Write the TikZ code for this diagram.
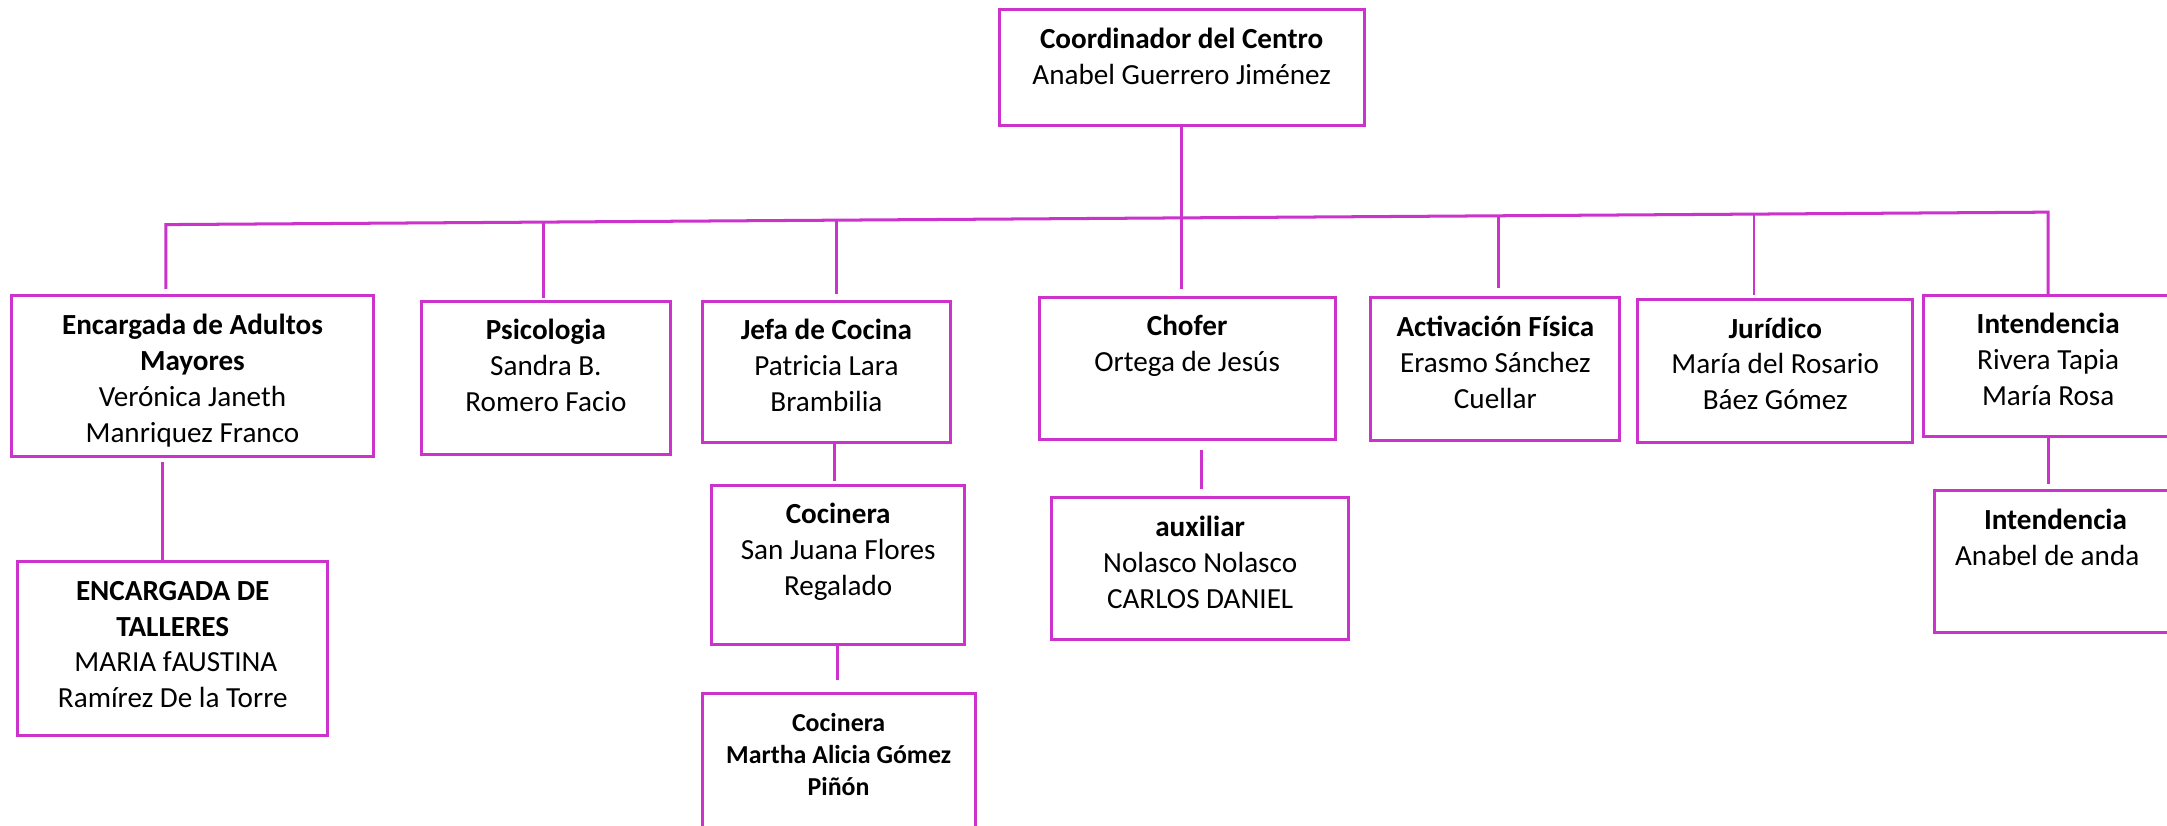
\documentclass[tikz,border=0pt]{standalone}
\usepackage{fontspec}
\setmainfont{Carlito}
\definecolor{mag}{RGB}{204,51,204}
\newcommand\fl{\rule{0pt}{10.5pt}}
\newcommand\fls{\rule{0pt}{9.5pt}}
\tikzset{
  x=0.55pt, y=-0.55pt,
  box/.style={draw=mag, line width=1.2pt, rectangle, inner sep=0pt, outer sep=0pt},
  sz/.style 2 args={minimum width=#1*0.55pt, minimum height=#2*0.55pt},
  txt/.style={align=center, inner sep=0pt, outer sep=0pt, anchor=north, font=\fontsize{11.6pt}{14.3pt}\selectfont},
  txtsmall/.style={align=center, inner sep=0pt, outer sep=0pt, anchor=north, font=\fontsize{10.3pt}{12.65pt}\selectfont\bfseries},
  link/.style={draw=mag, line width=1.2pt},
  thinlink/.style={draw=mag, line width=0.7pt},
}
\begin{document}
\begin{tikzpicture}
\clip (0,0) rectangle (1568,597);
\fill[white] (0,0) rectangle (1568,597);

% boxes
\node[box, sz={264}{84}] (coord) at (855,49) {};
\node[box, sz={261.5}{116}] (enc) at (139.25,272) {};
\node[box, sz={180}{110.6}] (psi) at (395,273.3) {};
\node[box, sz={180}{102}] (jefa) at (598,269) {};
\node[box, sz={214}{103}] (chofer) at (859,266.5) {};
\node[box, sz={180}{103.4}] (act) at (1082,267.3) {};
\node[box, sz={199}{103.4}] (jur) at (1284.5,268.3) {};
\node[box, sz={180}{102.5}] (int) at (1482,264.75) {};
\node[box, sz={224}{126}] (taller) at (125,469.2) {};
\node[box, sz={183}{115}] (coc1) at (606.5,408.5) {};
\node[box, sz={214.7}{103}] (aux) at (868.4,411.5) {};
\node[box, sz={175.4}{102.8}] (int2) at (1487.3,406.4) {};
\node[box, sz={197.6}{150}] (coc2) at (606.8,577) {};

% texts
\node[txt] (tcoord) at ([yshift=-4.9pt]coord.north) {\fl\textbf{Coordinador del Centro}\\Anabel Guerrero Jiménez};
\node[txt] (tenc) at ([yshift=-4.9pt]enc.north) {\fl\textbf{Encargada de Adultos}\\\textbf{Mayores}\\Verónica Janeth\\Manriquez Franco};
\node[txt] (tpsi) at ([yshift=-4.9pt]psi.north) {\fl\textbf{Psicologia}\\Sandra B.\\Romero Facio};
\node[txt] (tjefa) at ([yshift=-4.9pt]jefa.north) {\fl\textbf{Jefa de Cocina}\\Patricia Lara\\Brambilia};
\node[txt] (tchofer) at ([yshift=-4.9pt]chofer.north) {\fl\textbf{Chofer}\\Ortega de Jesús};
\node[txt] (tact) at ([yshift=-4.9pt]act.north) {\fl\textbf{Activación Física}\\Erasmo Sánchez\\Cuellar};
\node[txt] (tjur) at ([yshift=-4.9pt]jur.north) {\fl\textbf{Jurídico}\\María del Rosario\\Báez Gómez};
\node[txt] (tint) at ([yshift=-4.9pt]int.north) {\fl\textbf{Intendencia}\\Rivera Tapia\\María Rosa};
\node[txt] (ttaller) at ([yshift=-4.9pt]taller.north) {\fl\textbf{ENCARGADA DE}\\\textbf{TALLERES}\\\hspace*{2.5pt}MARIA fAUSTINA\\Ramírez De la Torre};
\node[txt] (tcoc1) at ([yshift=-4.9pt]coc1.north) {\fl\textbf{Cocinera}\\San Juana Flores\\Regalado};
\node[txt] (taux) at ([yshift=-4.9pt]aux.north) {\fl\textbf{auxiliar}\\Nolasco Nolasco\\CARLOS DANIEL};
\node[txt] (tint2) at ([yshift=-4.9pt]int2.north) {\fl\textbf{Intendencia}\\Anabel de anda\hspace*{6.6pt}};
\node[txtsmall] (tcoc2) at ([yshift=-5.6pt]coc2.north) {\fls Cocinera\\Martha Alicia Gómez\\Piñón};

% bus
\coordinate (busL) at (120,162.5);
\coordinate (busR) at (1482,153.5);
\coordinate (d2) at (393,160.7);
\coordinate (d3) at (605,159.3);
\coordinate (d4) at (855,157.6);
\coordinate (d5) at (1084,156.1);
\coordinate (d6) at (1269,154.9);
\draw[link] ([yshift=2.75pt]busL |- enc.north) -- (busL) -- (busR) -- (busR |- int.north);
\draw[link] (coord.south) -- (d4);
\draw[link, shorten >=1.3pt] (d2) -- (d2 |- psi.north);
\draw[link, shorten >=2.75pt] (d3) -- (d3 |- jefa.north);
\draw[link, shorten >=3.3pt] (d4) -- (d4 |- chofer.north);
\draw[link, shorten >=3.85pt] (d5) -- (d5 |- act.north);
\draw[thinlink, shorten >=1.65pt] (d6) -- (d6 |- jur.north);

% lower links
\coordinate (x1) at (117.5,0);
\coordinate (x2) at (604,0);
\coordinate (x3) at (606,0);
\coordinate (x4) at (869.5,0);
\coordinate (x5) at (1482,0);
\draw[link, shorten <=2.2pt] (x1 |- enc.south) -- (x1 |- taller.north);
\draw[link, shorten >=1.65pt] (x2 |- jefa.south) -- (x2 |- coc1.north);
\draw[link, shorten >=5.5pt] (x3 |- coc1.south) -- (x3 |- coc2.north);
\draw[link, shorten <=4.3pt, shorten >=3.3pt] (x4 |- chofer.south) -- (x4 |- aux.north);
\draw[link, shorten >=2.75pt] (x5 |- int.south) -- (x5 |- int2.north);
\end{tikzpicture}
\end{document}
